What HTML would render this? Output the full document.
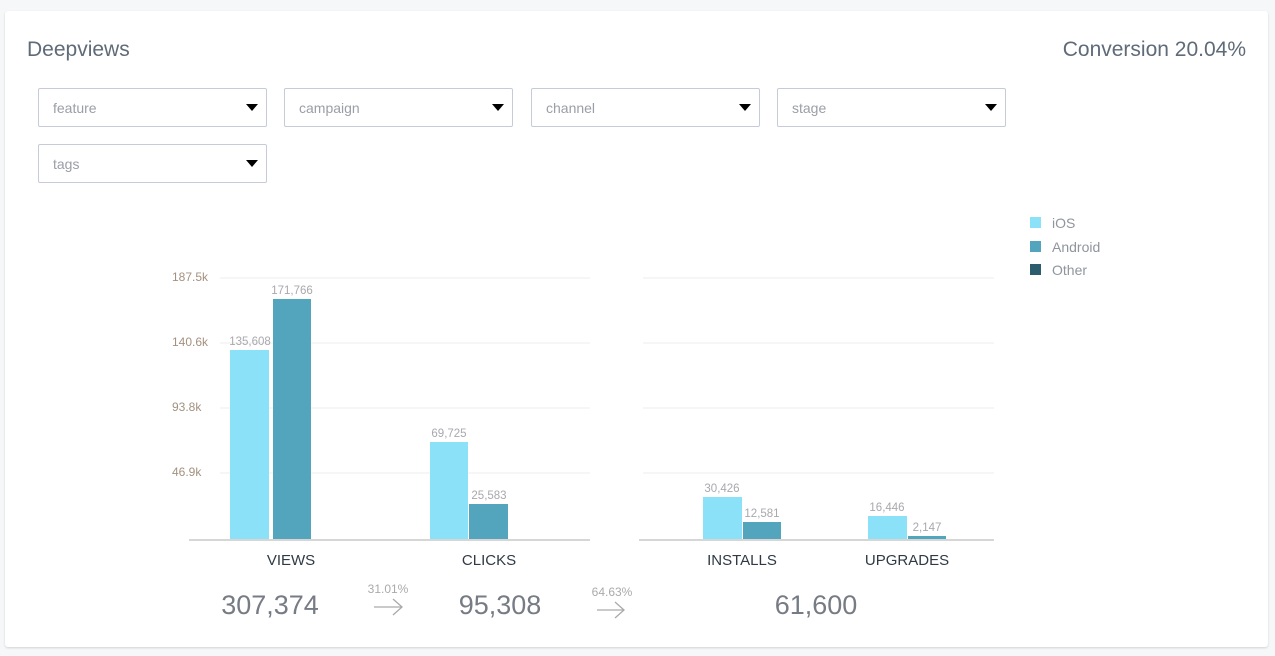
<!DOCTYPE html>
<html><head><style>
body{margin:0;background:#f6f7f9;font-family:"Liberation Sans",sans-serif;}
.card{position:absolute;left:5px;top:11px;width:1263px;height:636px;background:#fff;border-radius:3px;box-shadow:0 1px 2px rgba(0,0,0,.15);}
.dd{position:absolute;width:229px;height:39px;border:1px solid #c5ccd8;border-radius:2px;background:#fff;box-sizing:border-box;}
.dd span{position:absolute;left:14px;top:11px;font-size:14px;color:#9a9ea6;}
.dd i{position:absolute;right:8px;top:15px;width:0;height:0;border-left:6px solid transparent;border-right:6px solid transparent;border-top:7px solid #000;}
</style></head><body>
<div class="card"></div>
<div style="position:absolute;left:27px;top:38px;font-size:21px;color:#5f6b78">Deepviews</div>
<div style="position:absolute;right:29px;top:38px;font-size:21px;color:#5f6b78">Conversion 20.04%</div>
<div class="dd" style="left:38px;top:88px"><span>feature</span><i></i></div>
<div class="dd" style="left:284px;top:88px"><span>campaign</span><i></i></div>
<div class="dd" style="left:531px;top:88px"><span>channel</span><i></i></div>
<div class="dd" style="left:777px;top:88px"><span>stage</span><i></i></div>
<div class="dd" style="left:38px;top:144px"><span>tags</span><i></i></div>
<svg width="1275" height="656" style="position:absolute;left:0;top:0" font-family="Liberation Sans, sans-serif">
<g stroke="#eeeeee" stroke-width="1">
<line x1="220" y1="278" x2="590" y2="278"/><line x1="220" y1="343" x2="590" y2="343"/><line x1="220" y1="408" x2="590" y2="408"/><line x1="220" y1="473" x2="590" y2="473"/>
<line x1="643" y1="278" x2="994" y2="278"/><line x1="643" y1="343" x2="994" y2="343"/><line x1="643" y1="408" x2="994" y2="408"/><line x1="643" y1="473" x2="994" y2="473"/>
</g>
<g stroke="#d6d6d6" stroke-width="2"><line x1="189" y1="540" x2="590" y2="540"/><line x1="639" y1="540" x2="994" y2="540"/></g>
<g font-size="12" fill="#a3917f">
<text x="172" y="281">187.5k</text><text x="172" y="346">140.6k</text><text x="172" y="411">93.8k</text><text x="172" y="476">46.9k</text>
</g>
<g fill="#8be1f7"><rect x="230" y="350" width="39" height="189"/><rect x="430" y="442" width="38" height="97"/><rect x="703" y="497" width="39" height="42"/><rect x="868" y="516" width="39" height="23"/></g>
<g fill="#52a5bd"><rect x="273" y="299" width="38" height="240"/><rect x="469" y="504" width="39" height="35"/><rect x="743" y="522" width="38" height="17"/><rect x="908" y="536" width="38" height="3"/></g>
<g font-size="11.5" fill="#a8a8ae" text-anchor="middle">
<text x="250" y="345">135,608</text><text x="292" y="294">171,766</text><text x="449" y="437">69,725</text><text x="489" y="499">25,583</text>
<text x="722" y="492">30,426</text><text x="762" y="517">12,581</text><text x="887" y="511">16,446</text><text x="927" y="531">2,147</text>
</g>
<g font-size="15" fill="#2f3a45" text-anchor="middle">
<text x="291" y="565">VIEWS</text><text x="489" y="565">CLICKS</text><text x="742" y="565">INSTALLS</text><text x="907" y="565">UPGRADES</text>
</g>
<g font-size="27" fill="#767b84" text-anchor="middle">
<text x="270" y="614">307,374</text><text x="500" y="614">95,308</text><text x="816" y="614">61,600</text>
</g>
<g font-size="12" fill="#aaa" text-anchor="middle"><text x="388" y="593">31.01%</text><text x="612" y="596">64.63%</text></g>
<g stroke="#aaa" stroke-width="1.3" fill="none">
<path d="M374 607H402M393 599L402 607L393 615"/><path d="M597 610H624M615 602L624 610L615 618"/>
</g>
<rect x="1030" y="217" width="11" height="11" fill="#8be1f7"/><rect x="1030" y="241" width="11" height="11" fill="#52a5bd"/><rect x="1030" y="264" width="11" height="11" fill="#2b5d6e"/>
<g font-size="14" fill="#8f959e"><text x="1052" y="228">iOS</text><text x="1052" y="252">Android</text><text x="1052" y="275">Other</text></g>
</svg>
</body></html>
